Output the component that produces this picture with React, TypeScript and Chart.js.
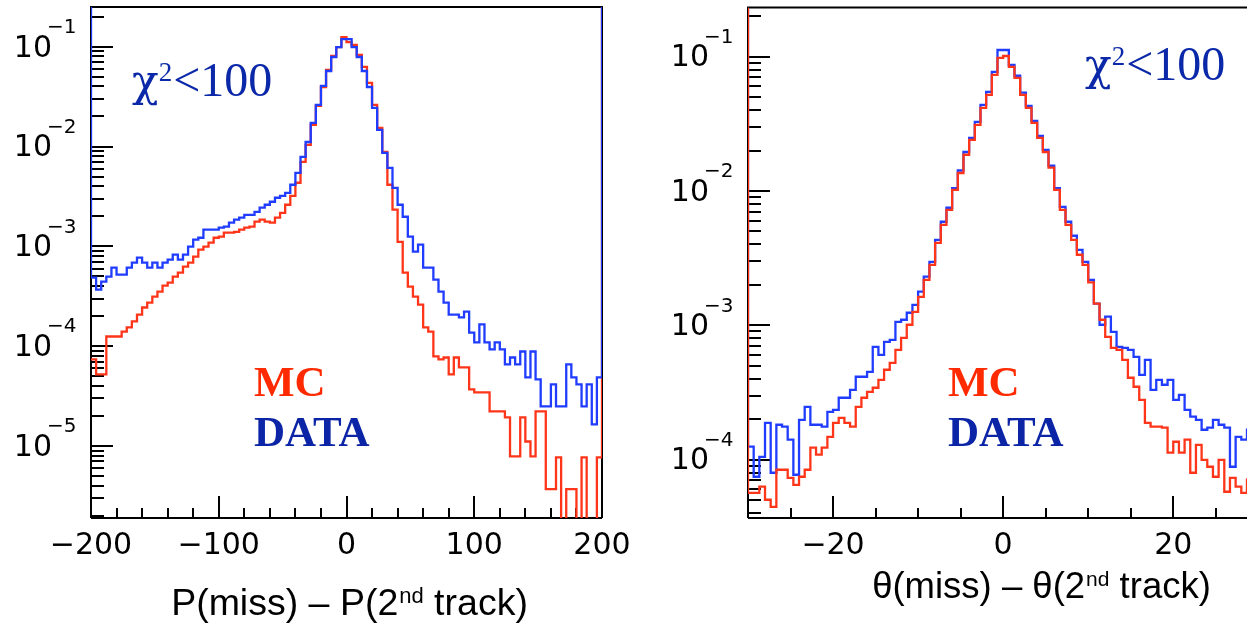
import React, { useEffect, useRef } from "react";
import { Chart, registerables } from "chart.js";

Chart.register(...registerables);

// ---------------- Left panel : P(miss) - P(2nd track) ----------------
const pBins = { low: -200, high: 200, count: 100 };
// DATA (blue)
const pData = [
  4.86e-4, 3.69e-4, 4.43e-4, 4.98e-4, 6.12e-4, 5.21e-4, 5.21e-4, 6.12e-4, 6.87e-4, 7.7e-4,
  6.87e-4, 6.12e-4, 6.87e-4, 6.12e-4, 6.87e-4, 7.36e-4, 8.26e-4, 7.36e-4, 8.26e-4, 9.93e-4,
  1.17e-3, 1.22e-3, 1.47e-3, 1.47e-3, 1.47e-3, 1.54e-3, 1.58e-3, 1.73e-3, 1.85e-3, 1.94e-3,
  2.07e-3, 2.07e-3, 2.22e-3, 2.44e-3, 2.61e-3, 2.8e-3, 3.07e-3, 3.21e-3, 3.44e-3, 4.14e-3,
  5.46e-3, 7.89e-3, 1.11e-2, 1.73e-2, 2.61e-2, 4.05e-2, 5.71e-2, 7.89e-2, 9.93e-2, 0.119,
  0.119, 9.93e-2, 7.89e-2, 5.71e-2, 3.95e-2, 2.44e-2, 1.47e-2, 8.65e-3, 6.12e-3, 3.86e-3,
  2.61e-3, 1.98e-3, 1.25e-3, 8.85e-4, 1.04e-3, 6.12e-4, 6.12e-4, 4.65e-4, 3.52e-4, 2.73e-4,
  2.07e-4, 2.07e-4, 1.94e-4, 2.22e-4, 1.37e-4, 1.09e-4, 1.65e-4, 1.09e-4, 9.27e-5, 1.09e-4,
  9.27e-5, 6.56e-5, 7.7e-5, 6.56e-5, 8.85e-5, 4.86e-5, 8.85e-5, 4.65e-5, 2.49e-5, 2.49e-5,
  4.14e-5, 2.49e-5, 2.49e-5, 6.56e-5, 4.86e-5, 4.14e-5, 2.49e-5, 4.14e-5, 1.65e-5, 4.86e-5,
];
// MC (red)
const pMC = [
  7.36e-5, 5.21e-5, 5.21e-5, 1.25e-4, 1.25e-4, 1.25e-4, 1.4e-4, 1.54e-4, 1.77e-4, 2.07e-4,
  2.44e-4, 2.73e-4, 3.14e-4, 3.52e-4, 4.05e-4, 4.34e-4, 4.98e-4, 5.46e-4, 6.27e-4, 6.87e-4,
  7.89e-4, 9.27e-4, 9.93e-4, 1.09e-3, 1.22e-3, 1.25e-3, 1.37e-3, 1.37e-3, 1.4e-3, 1.47e-3,
  1.54e-3, 1.58e-3, 1.77e-3, 1.85e-3, 1.77e-3, 1.73e-3, 1.94e-3, 2.17e-3, 2.61e-3, 3.21e-3,
  4.34e-3, 7.03e-3, 1.04e-2, 1.65e-2, 2.55e-2, 3.95e-2, 5.85e-2, 8.07e-2, 9.93e-2, 0.125,
  0.111, 0.104, 8.26e-2, 6.27e-2, 4.34e-2, 2.61e-2, 1.54e-2, 8.85e-3, 4.14e-3, 2.33e-3,
  1.11e-3, 5.46e-4, 3.95e-4, 3.14e-4, 2.61e-4, 1.54e-4, 1.4e-4, 7.89e-5, 7.36e-5, 7.7e-5,
  5.21e-5, 7.7e-5, 6.12e-5, 6.12e-5, 3.69e-5, 3.44e-5, 3.44e-5, 3.44e-5, 2.22e-5, 2.22e-5,
  2.22e-5, 1.94e-5, 7.89e-6, 7.89e-6, 1.94e-5, 1.11e-5, 7.89e-6, 2.22e-5, 2.22e-5, 3.69e-6,
  3.69e-6, 7.7e-6, 0, 3.69e-6, 3.69e-6, 0, 7.7e-6, 0, 0, 7.7e-6,
];
const pXTicks = [-200, -100, 0, 100, 200];
const pXLabels = ["\u2212200", "\u2212100", "0", "100", "200"];
const pYExps = [-1, -2, -3, -4, -5];

// ---------------- Right panel : theta(miss) - theta(2nd track) ----------------
const thBins = { low: -30, high: 30, count: 90 };
const thData = [
  1.25e-4, 7.46e-5, 1.05e-4, 1.88e-4, 7.99e-5, 1.82e-4, 1.76e-4, 1.41e-4, 7.72e-5, 1.98e-4,
  2.47e-4, 1.82e-4, 1.82e-4, 1.76e-4, 2.27e-4, 2.35e-4, 2.89e-4, 2.89e-4, 3.31e-4, 4.14e-4,
  4.14e-4, 4.51e-4, 6.92e-4, 6.03e-4, 7.54e-4, 7.8e-4, 1.06e-3, 1.1e-3, 1.24e-3, 1.42e-3,
  1.78e-3, 2.3e-3, 2.97e-3, 4.33e-3, 5.9e-3, 7.5e-3, 1.05e-2, 1.42e-2, 1.95e-2, 2.48e-2,
  3.27e-2, 4.37e-2, 5.46e-2, 7.7e-2, 0.112, 0.112, 8.67e-2, 7.2e-2, 5.4e-2, 4.3e-2,
  3.32e-2, 2.57e-2, 2.02e-2, 1.54e-2, 1.05e-2, 7.6e-3, 5.9e-3, 4.64e-3, 3.64e-3, 2.97e-3,
  2.18e-3, 1.45e-3, 1.01e-3, 1.16e-3, 8.95e-4, 6.92e-4, 6.8e-4, 6.57e-4, 5.83e-4, 4.28e-4,
  5.54e-4, 3.31e-4, 3.93e-4, 3.61e-4, 3.93e-4, 2.79e-4, 3.04e-4, 2.35e-4, 2.09e-4, 1.98e-4,
  1.67e-4, 1.73e-4, 1.98e-4, 1.82e-4, 1.73e-4, 8.86e-5, 1.48e-4, 1.41e-4, 1.67e-4, 1.82e-4,
];
const thMC = [
  5.67e-5, 5.67e-5, 6.29e-5, 5.03e-5, 4.46e-5, 8.41e-5, 8.41e-5, 7.33e-5, 6.5e-5, 7.46e-5,
  8.41e-5, 1.23e-4, 1.09e-4, 1.23e-4, 1.48e-4, 1.88e-4, 2.05e-4, 1.88e-4, 1.76e-4, 2.47e-4,
  2.89e-4, 3.2e-4, 3.43e-4, 3.93e-4, 4.67e-4, 5.26e-4, 6.57e-4, 8.07e-4, 1.01e-3, 1.26e-3,
  1.63e-3, 2.18e-3, 2.82e-3, 4.11e-3, 5.59e-3, 7.23e-3, 1.02e-2, 1.36e-2, 1.86e-2, 2.4e-2,
  3.1e-2, 4.15e-2, 5.19e-2, 7.31e-2, 9.8e-2, 0.101, 8.38e-2, 6.94e-2, 5.19e-2, 4.15e-2,
  3.21e-2, 2.48e-2, 1.95e-2, 1.49e-2, 1.02e-2, 7.23e-3, 5.59e-3, 4.33e-3, 3.35e-3, 2.82e-3,
  2.09e-3, 1.45e-3, 1.1e-3, 8.21e-4, 6.8e-4, 6.57e-4, 5.54e-4, 4.07e-4, 3.49e-4, 2.79e-4,
  1.88e-4, 1.76e-4, 1.76e-4, 1.73e-4, 1.13e-4, 1.36e-4, 1.13e-4, 1.41e-4, 7.99e-5, 1.29e-4,
  9.98e-5, 8.86e-5, 7.46e-5, 9.98e-5, 5.77e-5, 7.33e-5, 6.29e-5, 5.67e-5, 7.09e-5, 5.97e-5,
];
const thXTicks = [-20, 0, 20];
const thXLabels = ["\u221220", "0", "20"];
const thYExps = [-1, -2, -3, -4];

// ---------------- texts & colours ----------------
const CHI_TEXT = ["\u03c7", "2", "<100"];
const MC_TEXT = "MC";
const DATA_TEXT = "DATA";
const pTitle = ["P(miss) \u2013 P(2", "nd", " track)"];
const thTitle = ["\u03b8(miss) \u2013 \u03b8(2", "nd", " track)"];

const BLUE_LINE = "#1f3cff";
const RED_LINE = "#ff3519";
const MC_COLOR = "#ff2a00";
const DATA_COLOR = "#0b25a6";
const CHI_COLOR = "#0b28a8";

type Bins = { low: number; high: number; count: number };

function histPoints(bins: Bins, values: number[], top: number, floor: number, leadTop: boolean, trailTop: boolean) {
  const w = (bins.high - bins.low) / bins.count;
  const pts: { x: number; y: number }[] = [];
  if (leadTop) pts.push({ x: bins.low, y: top });
  values.forEach((v, i) => {
    const y = v > 0 ? v : floor;
    pts.push({ x: bins.low + i * w, y });
    pts.push({ x: bins.low + (i + 1) * w, y });
  });
  if (trailTop) pts.push({ x: bins.high, y: top });
  return pts;
}

type PanelCfg = {
  left: number;
  width: number;
  pad: { left: number; right: number; top: number; bottom: number };
  xMin: number; xMax: number; yMin: number; yMax: number;
  xMinor: number; xMajor: number;
  xTicks: number[]; xLabels: string[]; yExps: number[];
  bins: Bins; data: number[]; mc: number[];
  dataOnTop: boolean;
  dataLead: boolean; dataTrail: boolean; mcLead: boolean; mcTrail: boolean;
  drawRight: boolean;
  chi: { x: number; y: number };
  legend: { x: number; mcY: number; dataY: number };
  title: { parts: string[]; cx: number; y: number; size: number };
};

const leftCfg: PanelCfg = {
  left: 0, width: 650,
  pad: { left: 91, right: 48, top: 7, bottom: 106 },
  xMin: -200, xMax: 200, yMin: 1.9e-6, yMax: 0.25,
  xMinor: 20, xMajor: 100,
  xTicks: pXTicks, xLabels: pXLabels, yExps: pYExps,
  bins: pBins, data: pData, mc: pMC,
  dataOnTop: true, dataLead: true, dataTrail: true, mcLead: false, mcTrail: true,
  drawRight: true,
  chi: { x: 132, y: 96 },
  legend: { x: 254, mcY: 396, dataY: 446 },
  title: { parts: pTitle, cx: 349, y: 615, size: 37.5 },
};

const rightCfg: PanelCfg = {
  left: 650, width: 597,
  pad: { left: 98, right: 0, top: 7.5, bottom: 106 },
  xMin: -30, xMax: 28.67, yMin: 3.68e-5, yMax: 0.232,
  xMinor: 5, xMajor: 20,
  xTicks: thXTicks, xLabels: thXLabels, yExps: thYExps,
  bins: thBins, data: thData, mc: thMC,
  dataOnTop: false, dataLead: true, dataTrail: false, mcLead: true, mcTrail: false,
  drawRight: false,
  chi: { x: 1085 - 650, y: 80 },
  legend: { x: 948 - 650, mcY: 396, dataY: 446 },
  title: { parts: thTitle, cx: 1041 - 650, y: 598, size: 36.5 },
};

const TICK_FONT = '"DejaVu Sans", "Liberation Sans", sans-serif';
const SERIF = '"Liberation Serif", "Times New Roman", serif';
const CHI_FONT = '"DejaVu Serif", "Liberation Serif", serif';
const SANS = '"Liberation Sans", Arial, sans-serif';

function makePlugin(cfg: PanelCfg) {
  return {
    id: "pawAxes",
    beforeDatasetsDraw(chart: any) {
      const { ctx, chartArea: a } = chart;
      const xs = chart.scales.x;
      const ys = chart.scales.y;
      ctx.save();
      ctx.strokeStyle = "#000";
      ctx.lineWidth = 2;
      ctx.lineCap = "butt";
      ctx.beginPath();
      ctx.moveTo(a.left, a.bottom);
      ctx.lineTo(a.left, a.top);
      ctx.lineTo(a.right, a.top);
      if (cfg.drawRight) ctx.lineTo(a.right, a.bottom);
      ctx.moveTo(a.left, a.bottom);
      ctx.lineTo(a.right, a.bottom);
      // y ticks (log)
      const e0 = Math.floor(Math.log10(cfg.yMin));
      const e1 = Math.ceil(Math.log10(cfg.yMax));
      for (let e = e0; e <= e1; e++) {
        for (let m = 1; m <= 9; m++) {
          const v = m * Math.pow(10, e);
          if (v < cfg.yMin || v > cfg.yMax) continue;
          const py = Math.round(ys.getPixelForValue(v));
          const len = m === 1 ? 22 : 13;
          ctx.moveTo(a.left, py);
          ctx.lineTo(a.left + len, py);
        }
      }
      // x ticks
      const start = Math.ceil(cfg.xMin / cfg.xMinor) * cfg.xMinor;
      for (let v = start; v <= cfg.xMax + 1e-9; v += cfg.xMinor) {
        const major = Math.abs(Math.round(v / cfg.xMajor) * cfg.xMajor - v) < 1e-9;
        const px = Math.round(xs.getPixelForValue(v));
        ctx.moveTo(px, a.bottom);
        ctx.lineTo(px, a.bottom - (major ? 22 : 10));
      }
      ctx.stroke();
      ctx.restore();
    },
    afterDatasetsDraw(chart: any) {
      const { ctx, chartArea: a } = chart;
      const xs = chart.scales.x;
      const ys = chart.scales.y;
      ctx.save();
      ctx.fillStyle = "#000";
      // x labels
      ctx.font = `30px ${TICK_FONT}`;
      ctx.textAlign = "center";
      ctx.textBaseline = "middle";
      cfg.xTicks.forEach((v, i) => {
        ctx.fillText(cfg.xLabels[i], xs.getPixelForValue(v), 546);
      });
      // y labels 10^n
      cfg.yExps.forEach((e) => {
        const py = ys.getPixelForValue(Math.pow(10, e));
        const xr = a.left - 39;
        ctx.font = `30px ${TICK_FONT}`;
        ctx.textAlign = "right";
        ctx.textBaseline = "middle";
        ctx.fillText("10", xr, py + 2);
        ctx.font = `20px ${TICK_FONT}`;
        ctx.textAlign = "left";
        ctx.fillText("\u2212" + String(-e), xr - 5, py - 19);
      });
      // chi^2 < 100
      ctx.textBaseline = "alphabetic";
      ctx.textAlign = "left";
      ctx.fillStyle = CHI_COLOR;
      ctx.font = `44px ${CHI_FONT}`;
      let x = cfg.chi.x;
      ctx.fillText(CHI_TEXT[0], x, cfg.chi.y);
      x += ctx.measureText(CHI_TEXT[0]).width;
      ctx.font = `27px ${SERIF}`;
      ctx.fillText(CHI_TEXT[1], x, cfg.chi.y - 15);
      x += ctx.measureText(CHI_TEXT[1]).width + 1;
      ctx.font = `48px ${SERIF}`;
      ctx.fillText(CHI_TEXT[2], x, cfg.chi.y);
      // legend texts
      ctx.font = `bold 43px ${SERIF}`;
      ctx.fillStyle = MC_COLOR;
      ctx.fillText(MC_TEXT, cfg.legend.x, cfg.legend.mcY);
      ctx.fillStyle = DATA_COLOR;
      ctx.fillText(DATA_TEXT, cfg.legend.x, cfg.legend.dataY);
      // axis title
      const [pre, sup, post] = cfg.title.parts;
      const fs = cfg.title.size;
      const ss = Math.round(fs * 0.58);
      ctx.fillStyle = "#000";
      ctx.font = `${fs}px ${SANS}`;
      const w1 = ctx.measureText(pre).width;
      const w3 = ctx.measureText(post).width;
      ctx.font = `${ss}px ${SANS}`;
      const w2 = ctx.measureText(sup).width;
      let tx = cfg.title.cx - (w1 + w2 + w3) / 2;
      ctx.font = `${fs}px ${SANS}`;
      ctx.fillText(pre, tx, cfg.title.y);
      tx += w1 + 1;
      ctx.font = `${ss}px ${SANS}`;
      ctx.fillText(sup, tx, cfg.title.y - 12);
      tx += w2;
      ctx.font = `${fs}px ${SANS}`;
      ctx.fillText(post, tx, cfg.title.y);
      ctx.restore();
    },
  };
}

function Panel({ cfg }: { cfg: PanelCfg }) {
  const ref = useRef<HTMLCanvasElement | null>(null);
  useEffect(() => {
    const canvas = ref.current;
    if (!canvas) return;
    const floor = cfg.yMin / 100;
    const dataPts = histPoints(cfg.bins, cfg.data, cfg.yMax, floor, cfg.dataLead, cfg.dataTrail);
    const mcPts = histPoints(cfg.bins, cfg.mc, cfg.yMax, floor, cfg.mcLead, cfg.mcTrail);
    const common = {
      borderWidth: 2.3,
      pointRadius: 0,
      pointHoverRadius: 0,
      fill: false,
      tension: 0,
      borderJoinStyle: "miter" as const,
      borderCapStyle: "butt" as const,
    };
    const chart = new Chart(canvas, {
      type: "line",
      data: {
        datasets: [
          { ...common, label: "DATA", data: dataPts, borderColor: BLUE_LINE, order: cfg.dataOnTop ? 0 : 1 },
          { ...common, label: "MC", data: mcPts, borderColor: RED_LINE, order: cfg.dataOnTop ? 1 : 0 },
        ],
      },
      options: {
        animation: false,
        responsive: false,
        devicePixelRatio: 1,
        layout: { padding: cfg.pad },
        events: [],
        plugins: { legend: { display: false }, tooltip: { enabled: false }, title: { display: false } },
        scales: {
          x: { type: "linear", min: cfg.xMin, max: cfg.xMax, display: false },
          y: { type: "logarithmic", min: cfg.yMin, max: cfg.yMax, display: false },
        },
      },
      plugins: [makePlugin(cfg)],
    } as any);
    return () => chart.destroy();
  }, [cfg]);
  return (
    <canvas
      ref={ref}
      width={cfg.width}
      height={624}
      style={{ position: "absolute", left: cfg.left, top: 0, width: cfg.width, height: 624 }}
    />
  );
}

export default function App() {
  return (
    <div
      style={{
        position: "fixed",
        left: 0,
        top: 0,
        width: 1247,
        height: 624,
        background: "#ffffff",
        overflow: "hidden",
      }}
    >
      <Panel cfg={leftCfg} />
      <Panel cfg={rightCfg} />
    </div>
  );
}
